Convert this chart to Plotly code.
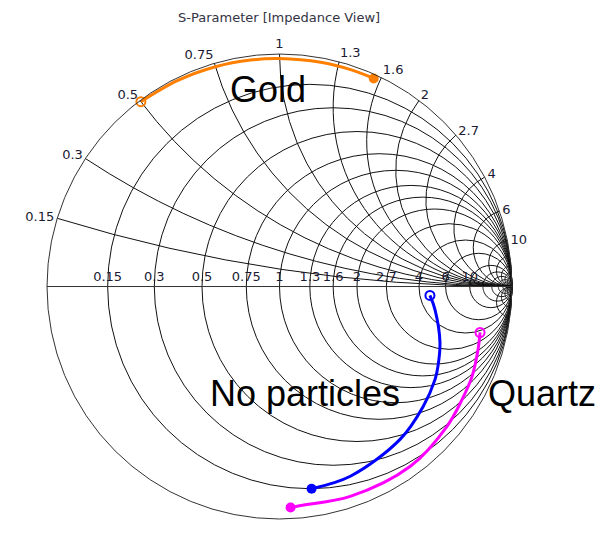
import numpy as np
import plotly.graph_objects as go

# ---- data (normalized impedance z = r + jx) ----
gold_r = [0.004, 0.008, 0.012, 0.016, 0.020, 0.024, 0.027, 0.030]
gold_x = [0.50, 0.62, 0.75, 0.88, 1.00, 1.20, 1.38, 1.55]

nop_r = [4.60, 4.54, 3.02, 1.90, 1.46, 0.85, 0.45, 0.21, 0.15]
nop_x = [-0.61, -1.66, -3.13, -3.13, -2.97, -2.50, -1.98, -1.42, -1.16]

quartz_r = [3.74, 2.08, 0.92, 0.52, 0.27, 0.108, 0.071, 0.061, 0.052]
quartz_x = [-6.82, -5.72, -4.32, -3.44, -2.73, -1.96, -1.39, -1.10, -1.05]

grid_vals = [0.15, 0.3, 0.5, 0.75, 1, 1.3, 1.6, 2, 2.7, 4, 6, 10]
extra_grid = [15, 22, 33, 50, 80, 150]

title_text = "S-Parameter [Impedance View]"
labels = ["Gold", "No particles", "Quartz"]

GRID = "#111111"
GW = 1.2

fig = go.Figure()

# extra dense grid near the open-circuit point
sweep = np.concatenate([-np.logspace(4, -3, 120), [0.0], np.logspace(-3, 4, 120)])
rsweep = np.concatenate([[0.0], np.logspace(-3, 4, 160)])
for v in extra_grid:
    fig.add_trace(go.Scattersmith(real=[v] * len(sweep), imag=sweep, mode="lines",
                                  line=dict(color=GRID, width=1),
                                  showlegend=False, hoverinfo="skip"))
    for s in (1, -1):
        fig.add_trace(go.Scattersmith(real=rsweep, imag=[s * v] * len(rsweep), mode="lines",
                                      line=dict(color=GRID, width=1),
                                      showlegend=False, hoverinfo="skip"))


def add_series(r, x, color):
    fig.add_trace(go.Scattersmith(real=r, imag=x, mode="lines",
                                  line=dict(color=color, width=3, shape="spline"),
                                  showlegend=False, hoverinfo="skip"))
    fig.add_trace(go.Scattersmith(real=[r[0]], imag=[x[0]], mode="markers",
                                  marker=dict(symbol="circle-open", size=9, color=color,
                                              line=dict(width=2, color=color)),
                                  showlegend=False, hoverinfo="skip"))
    fig.add_trace(go.Scattersmith(real=[r[-1]], imag=[x[-1]], mode="markers",
                                  marker=dict(symbol="circle", size=10, color=color),
                                  showlegend=False, hoverinfo="skip"))


add_series(gold_r, gold_x, "#ff7f00")
add_series(nop_r, nop_x, "#0000ff")
add_series(quartz_r, quartz_x, "#ff00ff")

tickfont = dict(family="DejaVu Sans", size=13, color="#1a1a33")
fig.update_layout(
    width=604, height=537,
    margin=dict(l=0, r=0, t=0, b=0),
    paper_bgcolor="white",
    showlegend=False,
    smith=dict(
        domain=dict(x=[0.0778, 0.8477], y=[0.0335, 0.8994]),
        bgcolor="white",
        realaxis=dict(tickvals=grid_vals, gridcolor=GRID, gridwidth=GW,
                      linecolor="#333333", linewidth=1, tickfont=tickfont,
                      showline=True, ticks="", tickangle=0),
        imaginaryaxis=dict(tickvals=grid_vals, gridcolor=GRID, gridwidth=GW,
                           linecolor="#333333", linewidth=1, tickfont=tickfont,
                           showline=True, ticks=""),
    ),
    shapes=[
        # hide the automatic infinity label at the right end of the real axis
        dict(type="rect", xref="paper", yref="paper", layer="above",
             x0=514.5 / 604, x1=545 / 604, y0=1 - 300 / 537, y1=1 - 276 / 537,
             fillcolor="white", line=dict(width=0)),
    ],
    annotations=[
        dict(text=title_text, x=279 / 604, y=1 - 18 / 537, xref="paper", yref="paper",
             xanchor="center", yanchor="middle", showarrow=False,
             font=dict(family="DejaVu Sans", size=13, color="#333344")),
        dict(text=labels[0], x=268 / 604, y=1 - 90 / 537, xref="paper", yref="paper",
             xanchor="center", yanchor="middle", showarrow=False,
             font=dict(family="Liberation Sans", size=36, color="black")),
        dict(text=labels[1], x=305 / 604, y=1 - 393 / 537, xref="paper", yref="paper",
             xanchor="center", yanchor="middle", showarrow=False,
             font=dict(family="Liberation Sans", size=36, color="black")),
        dict(text=labels[2], x=542 / 604, y=1 - 393 / 537, xref="paper", yref="paper",
             xanchor="center", yanchor="middle", showarrow=False,
             font=dict(family="Liberation Sans", size=36, color="black")),
    ],
)

fig.write_html("out.html")
